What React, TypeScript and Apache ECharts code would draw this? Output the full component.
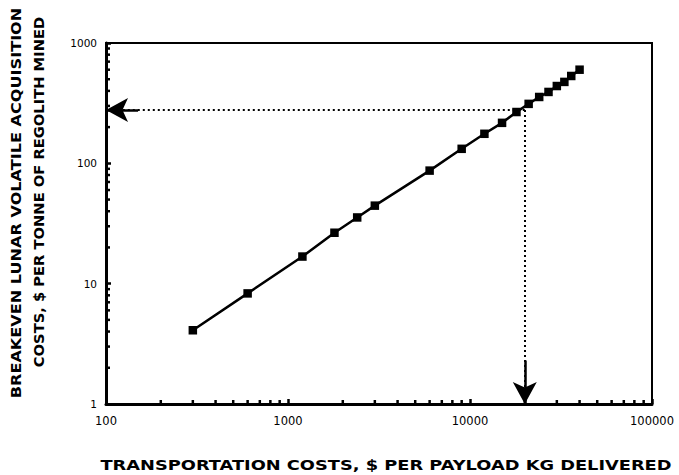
import React, { useEffect, useRef } from "react";
import * as echarts from "echarts";

const transportCost = [300, 600, 1200, 1800, 2400, 3000, 6000, 9000, 12000, 15000, 18000, 21000, 24000, 27000, 30000, 33000, 36000, 40000];
const breakevenCost = [4.1, 8.3, 16.8, 26.5, 35.5, 44.5, 87, 132, 176, 217, 267, 312, 356, 392, 439, 475, 532, 600];

const xMinorTicks = [200, 300, 400, 500, 600, 700, 800, 900, 2000, 3000, 4000, 5000, 6000, 7000, 8000, 9000, 20000, 30000, 40000, 50000, 60000, 70000, 80000, 90000];
const yMinorTicks = [2, 3, 4, 5, 6, 7, 8, 9, 20, 30, 40, 50, 60, 70, 80, 90, 200, 300, 400, 500, 600, 700, 800, 900];

const X_MIN = 100;
const X_MAX = 100000;
const Y_MIN = 1;
const Y_MAX = 1000;

const exampleCost = 20000;
const exampleBreakeven = 278;

const xTitle = "TRANSPORTATION COSTS, $ PER PAYLOAD KG DELIVERED";
const yTitle1 = "BREAKEVEN LUNAR VOLATILE ACQUISITION";
const yTitle2 = "COSTS, $ PER TONNE OF REGOLITH MINED";

export default function App() {
  const ref = useRef<HTMLDivElement>(null);
  useEffect(() => {
    if (!ref.current) return;
    const chart = echarts.init(ref.current, null, { renderer: "svg" });
    const dotted = { color: "#000", width: 2, type: [2, 3] as any };
    const solid = { color: "#000", width: 2.5, type: "solid" as any };
    const titleFont = "bold 14px 'DejaVu Sans', sans-serif";
    chart.setOption({
      animation: false,
      backgroundColor: "#fff",
      grid: {
        left: 106,
        right: 27,
        top: 43,
        bottom: 71,
        show: true,
        borderColor: "#000",
        borderWidth: 2,
      },
      xAxis: {
        type: "log",
        logBase: 10,
        min: X_MIN,
        max: X_MAX,
        axisLine: { lineStyle: { color: "#000", width: 3 } },
        axisTick: { inside: true, length: 5, lineStyle: { color: "#000", width: 2.5 } },
        splitLine: { show: false },
        axisLabel: {
          color: "#000",
          fontFamily: "DejaVu Sans",
          fontSize: 11.5,
          margin: 11,
          formatter: (v: number) => String(Math.round(v)),
        },
      },
      yAxis: {
        type: "log",
        logBase: 10,
        min: Y_MIN,
        max: Y_MAX,
        axisLine: { show: true, lineStyle: { color: "#000", width: 3 } },
        axisTick: { show: true, inside: true, length: 5, lineStyle: { color: "#000", width: 2.5 } },
        splitLine: { show: false },
        axisLabel: {
          color: "#000",
          fontFamily: "DejaVu Sans",
          fontSize: 10.5,
          margin: 9,
          formatter: (v: number) => String(Math.round(v)),
        },
      },
      series: [
        {
          type: "line",
          data: transportCost.map((x, i) => [x, breakevenCost[i]]),
          symbol: "rect",
          symbolSize: 8.5,
          lineStyle: { color: "#000", width: 2.5 },
          itemStyle: { color: "#000" },
          z: 5,
          markLine: {
            silent: true,
            animation: false,
            label: { show: false },
            symbol: ["none", "arrow"],
            symbolSize: [18, 22],
            itemStyle: { color: "#000" },
            lineStyle: dotted,
            data: [
              [
                { coord: [exampleCost, exampleBreakeven], symbol: "none" },
                { coord: [X_MIN, exampleBreakeven] },
              ],
              [
                { coord: [exampleCost, exampleBreakeven], symbol: "none" },
                { coord: [exampleCost, Y_MIN] },
              ],
              [
                { coord: [150, exampleBreakeven], symbol: "none", lineStyle: solid },
                { coord: [X_MIN, exampleBreakeven], symbol: "none", lineStyle: solid },
              ],
              [
                { coord: [exampleCost, 2.3], symbol: "none", lineStyle: solid },
                { coord: [exampleCost, Y_MIN], symbol: "none", lineStyle: solid },
              ],
            ],
          },
        },
        {
          type: "custom",
          coordinateSystem: "cartesian2d",
          silent: true,
          clip: false,
          data: xMinorTicks.map((v) => [v, Y_MIN]),
          renderItem: (params: any, api: any) => {
            const p = api.coord([api.value(0), api.value(1)]);
            return {
              type: "line",
              shape: { x1: p[0], y1: p[1], x2: p[0], y2: p[1] - 4 },
              style: { stroke: "#000", lineWidth: 2.5 },
            };
          },
        },
        {
          type: "custom",
          coordinateSystem: "cartesian2d",
          silent: true,
          clip: false,
          data: yMinorTicks.map((v) => [X_MIN, v]),
          renderItem: (params: any, api: any) => {
            const p = api.coord([api.value(0), api.value(1)]);
            return {
              type: "line",
              shape: { x1: p[0], y1: p[1], x2: p[0] + 4, y2: p[1] },
              style: { stroke: "#000", lineWidth: 2.5 },
            };
          },
        },
      ],
      graphic: [
        {
          type: "text",
          x: 386,
          y: 465,
          scaleX: 1.27,
          style: {
            text: xTitle,
            fill: "#000",
            font: titleFont,
            align: "center",
            verticalAlign: "middle",
          },
        },
        {
          type: "text",
          x: 16,
          y: 203,
          rotation: Math.PI / 2,
          scaleX: 1.15,
          style: {
            text: yTitle1,
            fill: "#000",
            font: titleFont,
            align: "center",
            verticalAlign: "middle",
          },
        },
        {
          type: "text",
          x: 39,
          y: 192,
          rotation: Math.PI / 2,
          scaleX: 1.05,
          style: {
            text: yTitle2,
            fill: "#000",
            font: titleFont,
            align: "center",
            verticalAlign: "middle",
          },
        },
      ],
    });
    return () => chart.dispose();
  }, []);
  return <div ref={ref} style={{ width: 679, height: 475, position: "absolute", left: 0, top: 0 }} />;
}
